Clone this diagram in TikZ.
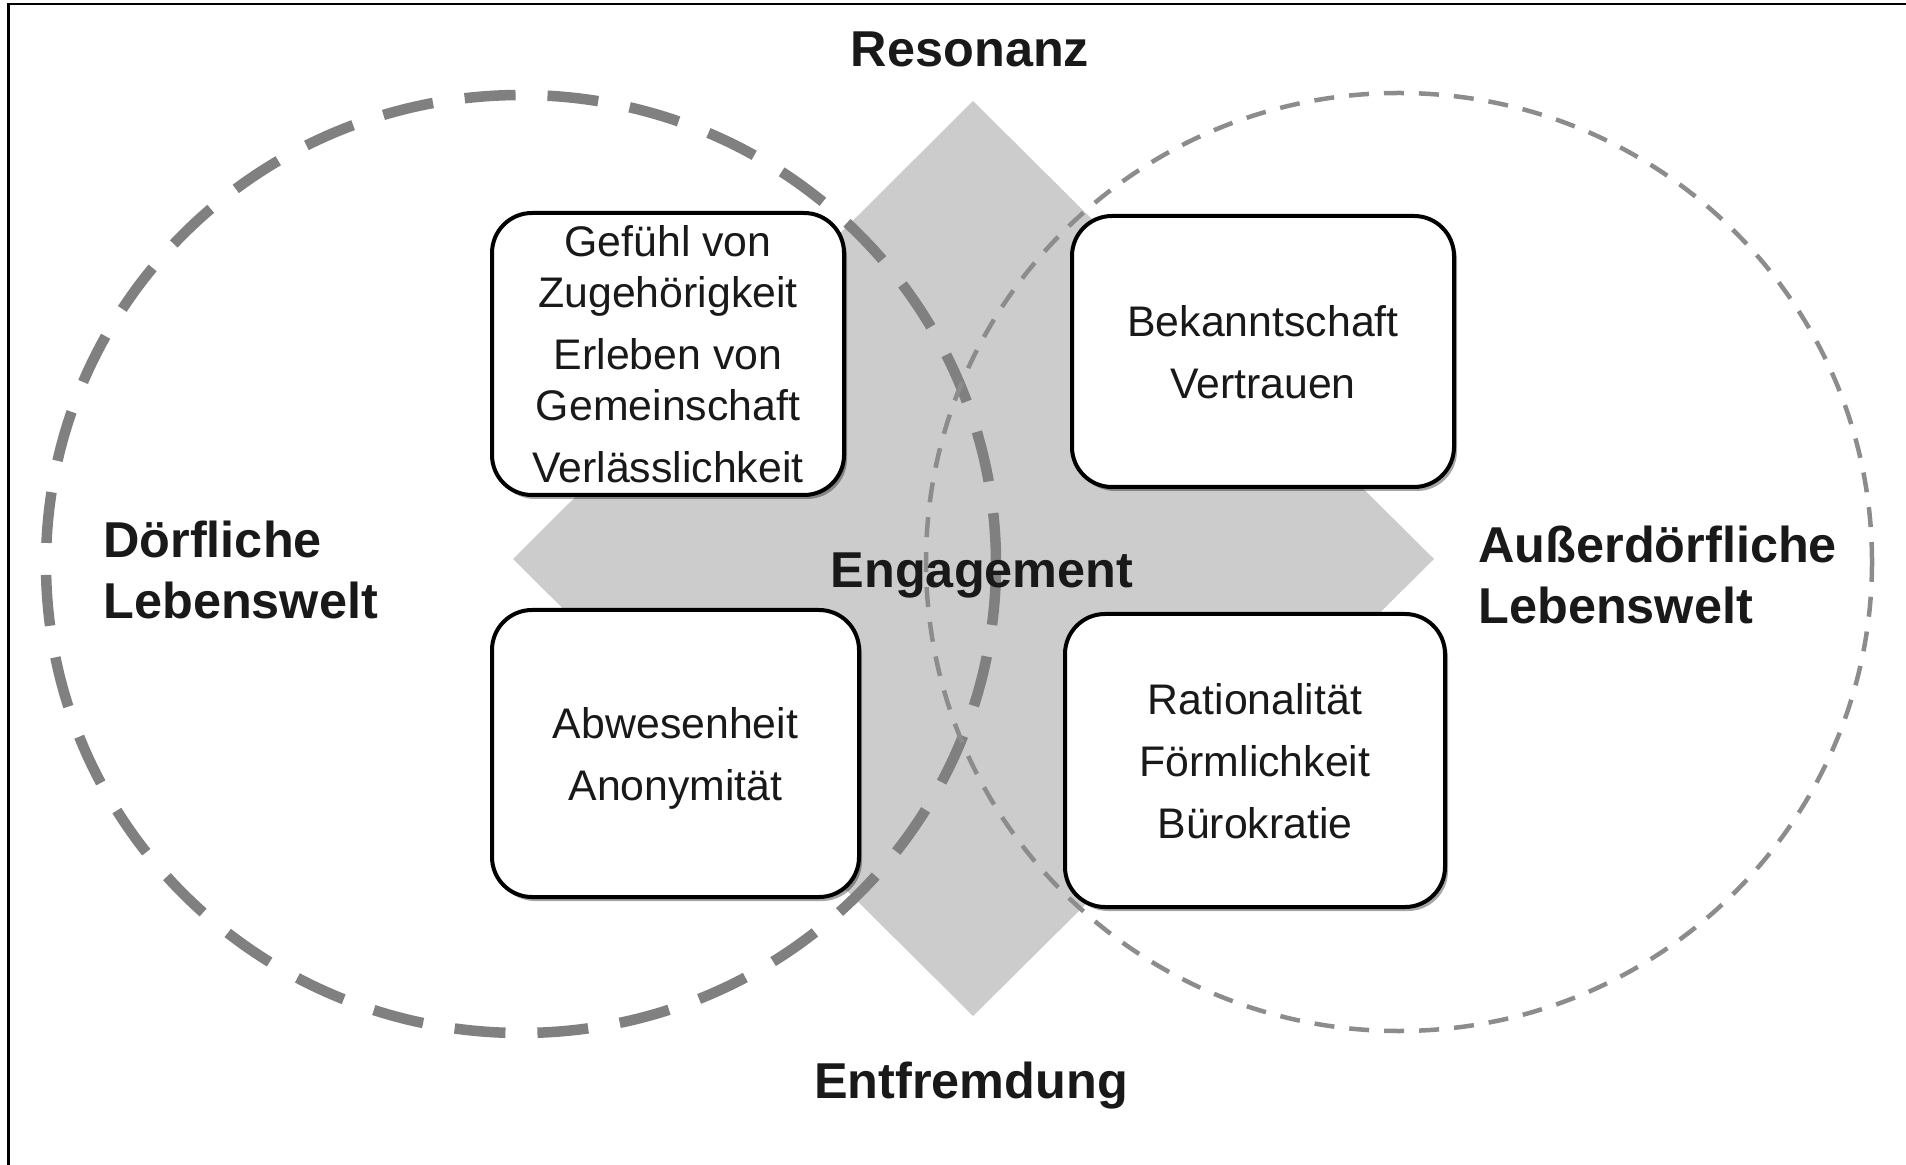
\documentclass[tikz,border=0pt]{standalone}
\usepackage{fontspec}
\setmainfont{Liberation Sans}
\usetikzlibrary{shadows}
\definecolor{txt}{gray}{0.1}
\definecolor{dia}{gray}{0.8}
\definecolor{lring}{gray}{0.5}
\definecolor{rring}{gray}{0.55}
\tikzset{
  boxstyle/.style={draw=black, line width=2pt, fill=white, rounded corners=20pt,
    align=center, text=txt, font=\fontsize{21.4}{31}\selectfont, inner sep=0pt, text depth=0pt,
    drop shadow={shadow xshift=1.5pt, shadow yshift=-2pt, opacity=0.35, fill=black}},
  biglabel/.style={text=txt, font=\bfseries\fontsize{25.2}{30.5}\selectfont, inner sep=0pt},
}
\begin{document}
\begin{tikzpicture}[x=0.5pt,y=-0.5pt]
\useasboundingbox (0,0) rectangle (1906,1165);
% grey diamond
\fill[dia] (973,101) -- (1434,559) -- (973,1016) -- (513,559) -- cycle;
% two dashed life-worlds
\draw[lring, line width=5.25pt, dash pattern=on 25.5pt off 16pt] (521,564) ellipse [x radius=237.5pt, y radius=234.5pt];
\draw[rring, line width=2.25pt, dash pattern=on 10pt off 7.5pt] (1399,562) ellipse [x radius=236.5pt, y radius=234.5pt];
% frame
\draw[line width=1.25pt] (8.5,1165) -- (8.5,4) -- (1906,4);
% boxes
\node[boxstyle, minimum width=176pt, minimum height=141pt] (b1) at (668,354)
  {Gefühl von\\[-5.5pt]Zugehörigkeit\\Erleben von\\[-5.5pt]Gemeinschaft\\Verlässlichkeit};
\node[boxstyle, minimum width=191pt, minimum height=135.5pt] (b2) at (1263,351.5)
  {Bekanntschaft\\Vertrauen};
\node[boxstyle, minimum width=183.5pt, minimum height=143.5pt] (b3) at (675.5,753.5)
  {Abwesenheit\\Anonymität};
\node[boxstyle, minimum width=190pt, minimum height=146.5pt] (b4) at (1255,760.5)
  {Rationalität\\Förmlichkeit\\Bürokratie};
% labels
\node[biglabel, anchor=base] (res) at (970,67) {Resonanz};
\node[biglabel, anchor=base] (ent) at (971,1098) {Entfremdung};
\node[biglabel, anchor=base] (eng) at (982,588) {Engagement};
\node[biglabel, anchor=west, align=left] (dorf) at (103,570) {Dörfliche\\Lebenswelt};
\node[biglabel, anchor=west, align=left] (ausser) at (1478,575) {Außerdörfliche\\Lebenswelt};
\end{tikzpicture}
\end{document}
